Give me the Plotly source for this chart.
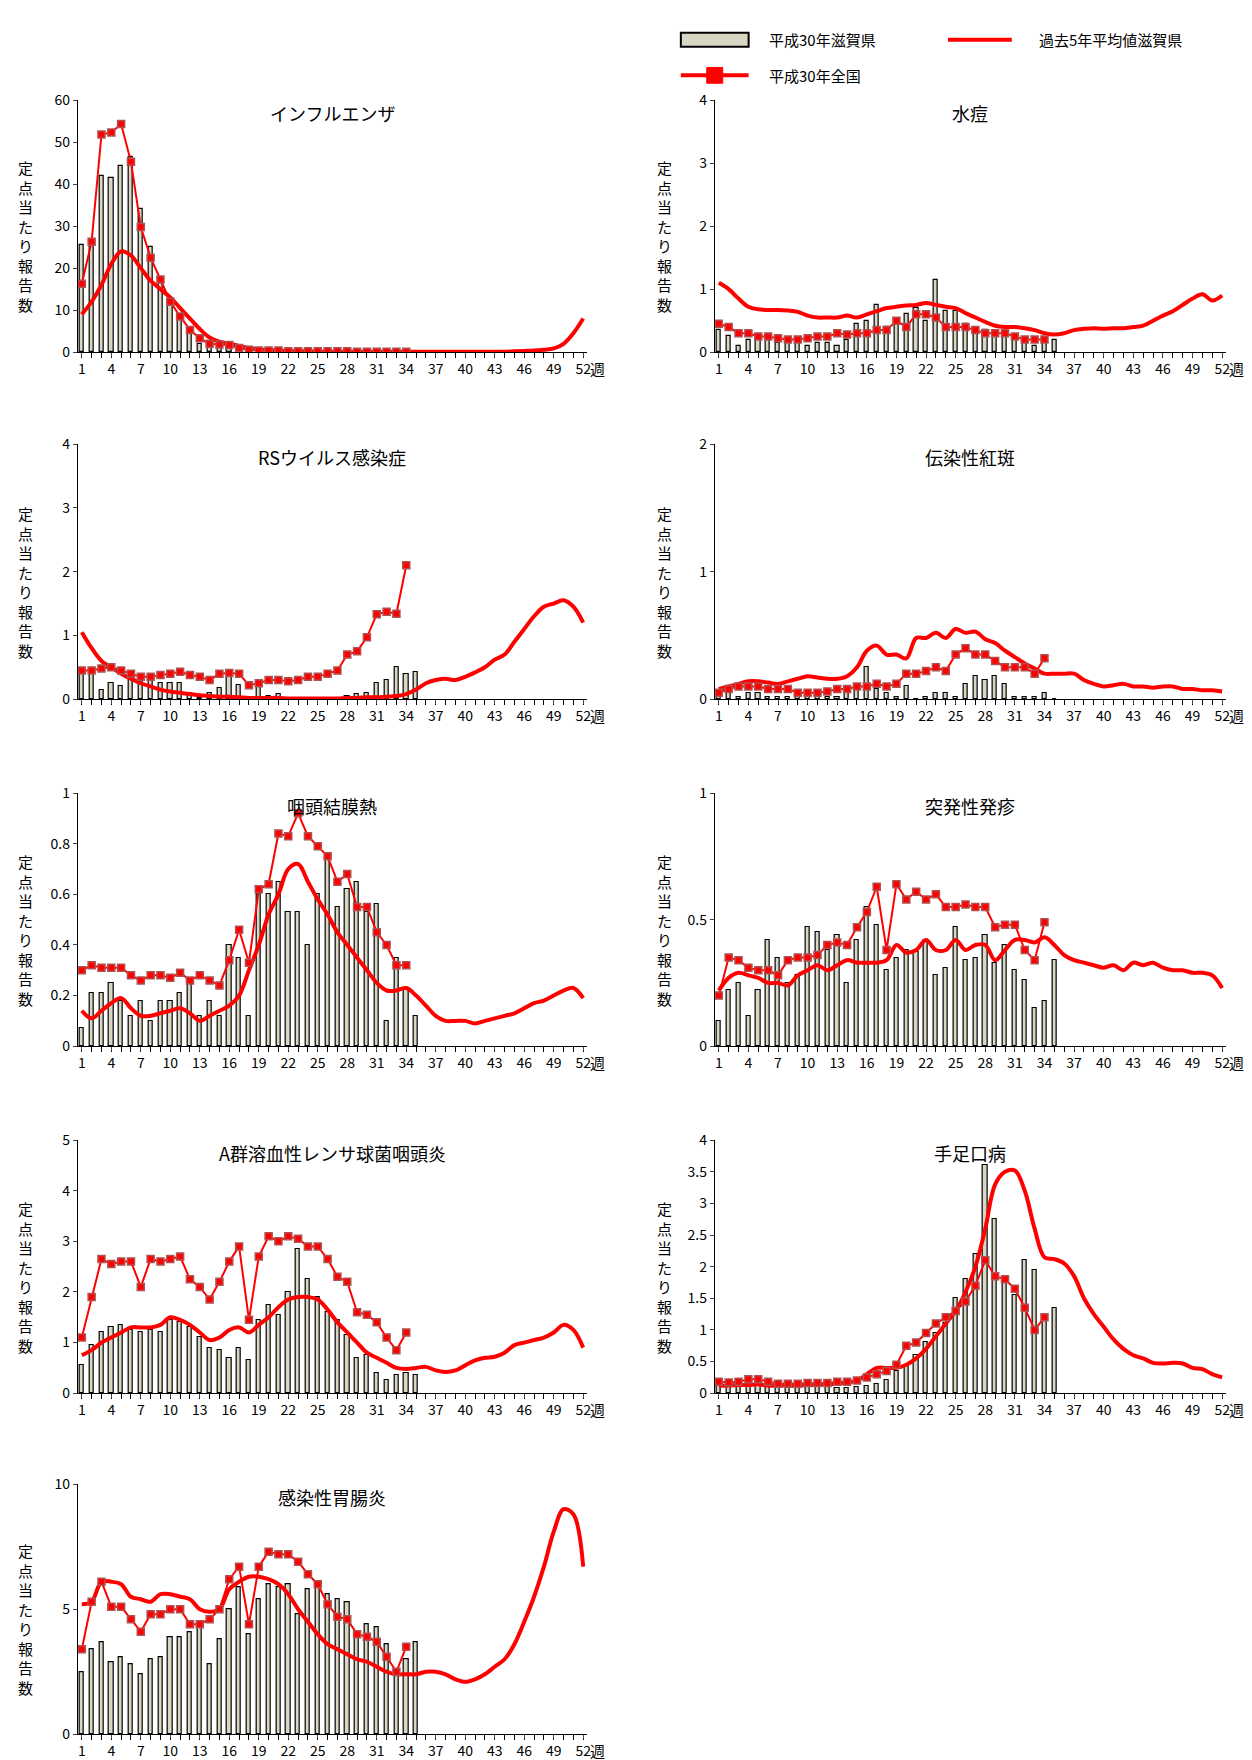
import plotly.graph_objects as go

weeks52 = list(range(1, 53))
weeks35 = list(range(1, 36))
weeks34 = list(range(1, 35))
tick_vals = list(range(1, 53, 3))

names = ["インフルエンザ", "水痘", "RSウイルス感染症", "伝染性紅斑", "咽頭結膜熱",
         "突発性発疹", "A群溶血性レンサ球菌咽頭炎", "手足口病", "感染性胃腸炎"]
ymax = [60, 4, 4, 2, 1, 1, 5, 4, 10]
ytick_step = [10, 1, 1, 1, 0.2, 0.5, 1, 0.5, 5]

shiga = [
    [25.5, 26, 42, 41.5, 44.3, 46.5, 34, 25, 17, 12, 8, 5, 2, 1, 1, 1, 0.5, 0.3, 0.2, 0.2, 0.1, 0.1, 0.1, 0.1, 0.1, 0.1, 0.1, 0, 0, 0, 0, 0, 0, 0, 0],
    [0.35, 0.25, 0.1, 0.2, 0.2, 0.2, 0.15, 0.15, 0.15, 0.1, 0.15, 0.15, 0.1, 0.2, 0.45, 0.5, 0.75, 0.4, 0.5, 0.6, 0.7, 0.5, 1.15, 0.65, 0.65, 0.45, 0.3, 0.35, 0.25, 0.3, 0.2, 0.15, 0.1, 0.15, 0.2],
    [0.45, 0.42, 0.15, 0.25, 0.2, 0.35, 0.3, 0.3, 0.25, 0.25, 0.25, 0.1, 0.02, 0.1, 0.18, 0.35, 0.22, 0.02, 0.2, 0.05, 0.08, 0.02, 0.02, 0.02, 0.02, 0.02, 0.02, 0.05, 0.08, 0.1, 0.25, 0.3, 0.5, 0.4, 0.42],
    [0.05, 0.05, 0.02, 0.05, 0.05, 0.02, 0.02, 0.02, 0.02, 0.02, 0.02, 0.02, 0.02, 0.05, 0.1, 0.25, 0.08, 0.05, 0.02, 0.1, 0, 0.02, 0.05, 0.05, 0.02, 0.12, 0.18, 0.15, 0.18, 0.12, 0.02, 0.02, 0.02, 0.05, 0],
    [0.07, 0.21, 0.21, 0.25, 0.18, 0.12, 0.18, 0.1, 0.18, 0.18, 0.21, 0.25, 0.12, 0.18, 0.12, 0.4, 0.35, 0.12, 0.6, 0.6, 0.65, 0.53, 0.53, 0.4, 0.6, 0.74, 0.55, 0.62, 0.65, 0.53, 0.56, 0.1, 0.35, 0.22, 0.12],
    [0.1, 0.22, 0.25, 0.12, 0.22, 0.42, 0.35, 0.25, 0.28, 0.47, 0.45, 0.38, 0.44, 0.25, 0.42, 0.55, 0.48, 0.3, 0.35, 0.38, 0.37, 0.42, 0.28, 0.31, 0.47, 0.34, 0.35, 0.44, 0.33, 0.4, 0.3, 0.26, 0.15, 0.18, 0.34],
    [0.55, 0.95, 1.2, 1.3, 1.35, 1.25, 1.2, 1.25, 1.2, 1.45, 1.4, 1.3, 1.1, 0.9, 0.85, 0.7, 0.9, 0.65, 1.45, 1.75, 1.55, 2.0, 2.85, 2.25, 1.9, 1.6, 1.45, 1.15, 0.7, 0.75, 0.4, 0.25, 0.35, 0.4, 0.35],
    [0.2, 0.15, 0.2, 0.2, 0.15, 0.1, 0.08, 0.08, 0.1, 0.1, 0.1, 0.1, 0.08, 0.08, 0.1, 0.12, 0.15, 0.2, 0.35, 0.45, 0.6, 0.8, 0.95, 1.1, 1.5, 1.8, 2.2, 3.6, 2.75, 1.8, 1.55, 2.1, 1.95, 1.25, 1.35],
    [2.5, 3.4, 3.7, 2.9, 3.1, 2.8, 2.4, 3.0, 3.1, 3.9, 3.9, 4.1, 4.3, 2.8, 3.8, 5.0, 5.9, 4.0, 5.4, 6.0, 5.9, 6.0, 4.8, 5.8, 6.0, 5.6, 5.4, 5.3, 4.0, 4.4, 4.3, 3.6, 2.6, 3.0, 3.7],
]

national = [
    [16.3, 26.3, 51.8, 52.3, 54.3, 45.3, 29.8, 22.5, 17.3, 12, 8.5, 5.3, 3.3, 2, 1.8, 1.7, 1.0, 0.6, 0.4, 0.4, 0.4, 0.2, 0.2, 0.2, 0.2, 0.2, 0.2, 0.2, 0.1, 0.1, 0.1, 0.1, 0.1, 0.1],
    [0.45, 0.4, 0.3, 0.3, 0.25, 0.25, 0.22, 0.2, 0.2, 0.22, 0.25, 0.25, 0.3, 0.28, 0.3, 0.3, 0.35, 0.35, 0.5, 0.4, 0.6, 0.6, 0.55, 0.4, 0.4, 0.4, 0.35, 0.3, 0.3, 0.3, 0.25, 0.2, 0.2, 0.2],
    [0.45, 0.45, 0.48, 0.5, 0.45, 0.4, 0.35, 0.35, 0.38, 0.4, 0.43, 0.38, 0.35, 0.3, 0.4, 0.41, 0.4, 0.22, 0.25, 0.3, 0.3, 0.28, 0.3, 0.35, 0.35, 0.4, 0.45, 0.7, 0.75, 0.97, 1.33, 1.37, 1.34, 2.1],
    [0.05, 0.08, 0.1, 0.1, 0.1, 0.08, 0.08, 0.08, 0.05, 0.05, 0.05, 0.06, 0.08, 0.08, 0.1, 0.1, 0.12, 0.1, 0.12, 0.2, 0.2, 0.22, 0.25, 0.22, 0.35, 0.4, 0.35, 0.35, 0.3, 0.25, 0.25, 0.25, 0.2, 0.32],
    [0.3, 0.32, 0.31, 0.31, 0.31, 0.28, 0.26, 0.28, 0.28, 0.27, 0.29, 0.26, 0.28, 0.26, 0.24, 0.34, 0.46, 0.33, 0.62, 0.64, 0.84, 0.83, 0.92, 0.83, 0.79, 0.75, 0.65, 0.68, 0.55, 0.55, 0.45, 0.4, 0.32, 0.32],
    [0.2, 0.35, 0.34, 0.31, 0.3, 0.3, 0.28, 0.34, 0.35, 0.35, 0.36, 0.4, 0.41, 0.4, 0.47, 0.53, 0.63, 0.38, 0.64, 0.58, 0.61, 0.58, 0.6, 0.55, 0.55, 0.56, 0.55, 0.55, 0.47, 0.48, 0.48, 0.38, 0.34, 0.49],
    [1.1, 1.9, 2.65, 2.55, 2.6, 2.6, 2.1, 2.65, 2.6, 2.65, 2.7, 2.25, 2.1, 1.85, 2.2, 2.6, 2.9, 1.45, 2.7, 3.1, 3.0, 3.1, 3.05, 2.9, 2.9, 2.65, 2.3, 2.2, 1.6, 1.55, 1.4, 1.1, 0.85, 1.2],
    [0.18, 0.17, 0.18, 0.22, 0.22, 0.18, 0.15, 0.15, 0.15, 0.16, 0.16, 0.16, 0.18, 0.18, 0.2, 0.25, 0.3, 0.35, 0.45, 0.75, 0.8, 0.95, 1.1, 1.2, 1.3, 1.45, 1.7, 2.1, 1.85, 1.8, 1.65, 1.35, 1.0, 1.2],
    [3.4, 5.3, 6.1, 5.1, 5.1, 4.6, 4.1, 4.8, 4.8, 5.0, 5.0, 4.4, 4.4, 4.6, 5.0, 6.2, 6.7, 4.4, 6.7, 7.3, 7.2, 7.2, 6.9, 6.4, 6.0, 5.2, 4.7, 4.6, 4.0, 3.9, 3.7, 3.1, 2.5, 3.5],
]

avg5 = [
    [9, 12, 16, 21, 24, 23, 20, 17, 15, 13, 10.5, 8, 5.5, 3.5, 2.5, 2, 1.5, 1, 0.7, 0.5, 0.4, 0.3, 0.2, 0.2, 0.1, 0.1, 0.1, 0.1, 0.1, 0.1, 0.1, 0.1, 0.1, 0.1, 0.1, 0.1, 0.1, 0.1, 0.1, 0.1, 0.1, 0.1, 0.1, 0.1, 0.2, 0.3, 0.4, 0.6, 0.9, 2, 4.5, 8],
    [1.1, 1.0, 0.85, 0.72, 0.68, 0.67, 0.67, 0.66, 0.64, 0.58, 0.55, 0.55, 0.55, 0.58, 0.55, 0.6, 0.65, 0.7, 0.72, 0.74, 0.75, 0.78, 0.75, 0.72, 0.7, 0.62, 0.55, 0.48, 0.42, 0.4, 0.4, 0.38, 0.35, 0.3, 0.28, 0.3, 0.35, 0.37, 0.38, 0.37, 0.38, 0.38, 0.4, 0.42, 0.5, 0.58, 0.65, 0.75, 0.85, 0.92, 0.82, 0.9],
    [1.05, 0.8, 0.6, 0.5, 0.4, 0.32, 0.25, 0.2, 0.15, 0.12, 0.1, 0.08, 0.06, 0.05, 0.04, 0.04, 0.03, 0.02, 0.02, 0.02, 0.02, 0.01, 0.01, 0.01, 0.01, 0.01, 0.01, 0.02, 0.02, 0.03, 0.03, 0.04, 0.05, 0.08, 0.15, 0.25, 0.3, 0.32, 0.3, 0.35, 0.42, 0.5, 0.62, 0.7, 0.9, 1.1, 1.3, 1.45, 1.5, 1.55, 1.45, 1.2],
    [0.08, 0.1, 0.12, 0.14, 0.14, 0.13, 0.12, 0.14, 0.16, 0.18, 0.17, 0.16, 0.16, 0.18, 0.25, 0.38, 0.42, 0.35, 0.35, 0.32, 0.48, 0.48, 0.52, 0.48, 0.55, 0.52, 0.53, 0.47, 0.44, 0.38, 0.33, 0.28, 0.24, 0.2, 0.2, 0.2, 0.2, 0.15, 0.12, 0.1, 0.11, 0.12, 0.1, 0.1, 0.09, 0.1, 0.1, 0.08, 0.08, 0.07, 0.07, 0.06],
    [0.14, 0.11, 0.14, 0.17, 0.19, 0.15, 0.12, 0.12, 0.13, 0.14, 0.15, 0.13, 0.1, 0.12, 0.14, 0.16, 0.2, 0.3, 0.4, 0.52, 0.6, 0.7, 0.72, 0.65, 0.58, 0.52, 0.45, 0.4, 0.35, 0.3, 0.25, 0.22, 0.22, 0.23, 0.2, 0.16, 0.12, 0.1, 0.1, 0.1, 0.09, 0.1, 0.11, 0.12, 0.13, 0.15, 0.17, 0.18, 0.2, 0.22, 0.23, 0.19],
    [0.22, 0.27, 0.29, 0.28, 0.27, 0.25, 0.25, 0.24, 0.28, 0.3, 0.32, 0.3, 0.32, 0.34, 0.33, 0.33, 0.33, 0.34, 0.4, 0.37, 0.38, 0.42, 0.38, 0.38, 0.42, 0.38, 0.4, 0.4, 0.34, 0.38, 0.42, 0.42, 0.41, 0.43, 0.4, 0.36, 0.34, 0.33, 0.32, 0.31, 0.32, 0.3, 0.33, 0.32, 0.33, 0.31, 0.3, 0.3, 0.29, 0.29, 0.28, 0.23],
    [0.75, 0.85, 1.0, 1.1, 1.2, 1.3, 1.3, 1.3, 1.35, 1.5, 1.45, 1.35, 1.2, 1.05, 1.1, 1.25, 1.3, 1.2, 1.35, 1.5, 1.7, 1.85, 1.9, 1.9, 1.85, 1.65, 1.4, 1.2, 1.0, 0.8, 0.7, 0.6, 0.5, 0.48, 0.5, 0.52, 0.45, 0.42, 0.45, 0.55, 0.65, 0.7, 0.72, 0.8, 0.95, 1.0, 1.05, 1.1, 1.2, 1.35, 1.25, 0.9],
    [0.12, 0.12, 0.13, 0.13, 0.14, 0.12, 0.12, 0.12, 0.12, 0.13, 0.13, 0.14, 0.15, 0.17, 0.2, 0.3, 0.4, 0.4, 0.4, 0.45, 0.55, 0.7, 0.9, 1.1, 1.3, 1.6, 2.0, 2.6, 3.3, 3.5, 3.52, 3.2, 2.6, 2.15, 2.12, 2.05, 1.85, 1.5, 1.25, 1.05, 0.85, 0.7, 0.6, 0.55, 0.48, 0.47, 0.48, 0.47, 0.4, 0.38, 0.3, 0.25],
    [5.2, 5.3, 6.1, 6.1, 6.0, 5.5, 5.4, 5.3, 5.6, 5.6, 5.5, 5.4, 5.0, 4.9, 5.0, 5.8, 6.1, 6.3, 6.3, 6.2, 6.0, 5.6, 5.0, 4.5, 4.0, 3.6, 3.4, 3.2, 3.0, 2.9, 2.7, 2.5, 2.4, 2.4, 2.4, 2.5, 2.5, 2.4, 2.2, 2.1, 2.2, 2.4, 2.7, 3.0, 3.6, 4.5, 5.5, 6.7, 8.1, 9.0, 8.8, 6.7],
]

W, H = 1252, 1760
FONT = "Noto Sans CJK JP"
RED = "#ff0000"
x_dom = [(70 / W, 581 / W), (709 / W, 1222 / W)]
rows_px = [(82, 337), (430, 688), (783, 1039), (1134, 1390), (1482, 1735)]

fig = go.Figure()
for i, name in enumerate(names):
    r, c = divmod(i, 2)
    top, bot = rows_px[r]
    n = i + 1
    xa = "x" if n == 1 else f"x{n}"
    ya = "y" if n == 1 else f"y{n}"
    fig.add_trace(go.Bar(x=weeks35, y=shiga[i], width=0.42, marker=dict(color="#d9d6c4", line=dict(color="black", width=1.2)),
                         showlegend=False, xaxis=xa, yaxis=ya))
    fig.add_trace(go.Scatter(x=weeks52, y=avg5[i], mode="lines", line=dict(color=RED, width=4, shape="spline"),
                             showlegend=False, xaxis=xa, yaxis=ya))
    fig.add_trace(go.Scatter(x=weeks34, y=national[i], mode="lines+markers", line=dict(color=RED, width=2),
                             marker=dict(symbol="square", size=7, color=RED, line=dict(color="#b05050", width=1.5)),
                             showlegend=False, xaxis=xa, yaxis=ya))
    step = ytick_step[i]
    yt = [round(k * step, 2) for k in range(int(round(ymax[i] / step)) + 1)]
    fig.layout[f"xaxis{'' if n == 1 else n}"] = dict(
        domain=x_dom[c], anchor=ya, range=[0.59, 52.4], tickvals=tick_vals, ticks="outside", ticklen=4,
        showline=True, linecolor="black", showgrid=False, zeroline=False, tickfont=dict(size=14, color="black"),
        minor=dict(tickvals=weeks52, ticks="outside", ticklen=5, tickcolor="black"))
    fig.layout[f"yaxis{'' if n == 1 else n}"] = dict(
        domain=(1 - bot / H, 1 - top / H), anchor=xa, range=[0, ymax[i]], tickvals=yt, ticks="outside", ticklen=4,
        showline=True, linecolor="black", showgrid=False, zeroline=False, tickfont=dict(size=14, color="black"))
    cx = (x_dom[c][0] + x_dom[c][1]) / 2
    fig.add_annotation(text=name, x=cx, y=1 - (top - 2) / H, xref="paper", yref="paper", xanchor="center", yanchor="top",
                       showarrow=False, font=dict(size=18, color="black", family=FONT))
    fig.add_annotation(text="<br>".join("定点当たり報告数"), x=(8 + c * 641) / W, y=1 - (top + bot + 20) / 2 / H,
                       xref="paper", yref="paper", xanchor="left", yanchor="middle", showarrow=False,
                       font=dict(size=15, color="black", family=FONT))
    fig.add_annotation(text="週", x=(x_dom[c][1] * W + 10) / W, y=1 - (bot + 4) / H, xref="paper", yref="paper",
                       xanchor="center", yanchor="top", showarrow=False, font=dict(size=15, color="black", family=FONT))

# legend drawn by hand (pixel positions)
def px(x, y):
    return x / W, 1 - y / H

x0, y0 = px(675, 14)
x1, y1 = px(743, 28)
fig.add_shape(type="rect", xref="paper", yref="paper", x0=x0, y0=y0, x1=x1, y1=y1,
              fillcolor="#d9d6c4", line=dict(color="black", width=2))
x0, y0 = px(943, 21)
x1, _ = px(1007, 21)
fig.add_shape(type="line", xref="paper", yref="paper", x0=x0, y0=y0, x1=x1, y1=y0, line=dict(color=RED, width=4))
x0, y0 = px(675, 57)
x1, _ = px(743, 57)
fig.add_shape(type="line", xref="paper", yref="paper", x0=x0, y0=y0, x1=x1, y1=y0, line=dict(color=RED, width=4))
mx0, my0 = px(701, 49)
mx1, my1 = px(717, 65)
fig.add_shape(type="rect", xref="paper", yref="paper", x0=mx0, y0=my0, x1=mx1, y1=my1, fillcolor=RED, line=dict(color=RED, width=1))
for label, (lx, ly) in [("平成30年滋賀県", (761, 21)), ("過去5年平均値滋賀県", (1032, 21)), ("平成30年全国", (761, 57))]:
    ax, ay = px(lx, ly)
    fig.add_annotation(text=label, x=ax, y=ay, xref="paper", yref="paper", xanchor="left", yanchor="middle",
                       showarrow=False, font=dict(size=15, color="black", family=FONT))

fig.update_layout(
    width=W, height=H, margin=dict(l=0, r=0, t=0, b=0), plot_bgcolor="white", paper_bgcolor="white",
    font=dict(family=FONT, color="black"), bargap=0, showlegend=False,
)
fig.write_html("out.html")
